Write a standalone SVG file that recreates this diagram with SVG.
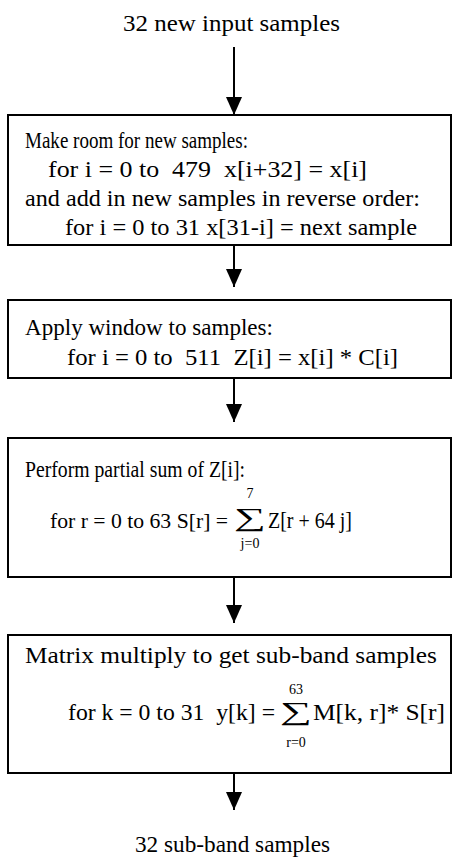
<svg xmlns="http://www.w3.org/2000/svg" width="455" height="861" viewBox="0 0 455 861">
<style>
  .t { font-family: "Liberation Serif", "Times New Roman", serif; font-size: 23px; fill: #000; white-space: pre; }
  .s { font-family: "Liberation Serif", "Times New Roman", serif; font-size: 14px; fill: #000; text-anchor: middle; }
  .sig { font-family: "Liberation Serif", "DejaVu Serif", serif; font-size: 26px; fill: #000; }
  .box { fill: #fff; stroke: #000; stroke-width: 2; }
  .conn { stroke: #000; stroke-width: 2; fill: none; marker-end: url(#ah); }
</style>
<defs>
  <marker id="ah" markerUnits="userSpaceOnUse" viewBox="0 0 18 16" markerWidth="18" markerHeight="16" refX="18" refY="8" orient="auto">
    <path d="M0,0 L18,8 L0,16 z" fill="#000"/>
  </marker>
</defs>
<rect width="455" height="861" fill="#fff"/>
<g id="connectors">
  <line class="conn" x1="234" y1="47" x2="234" y2="115"/>
  <line class="conn" x1="234" y1="245" x2="234" y2="287"/>
  <line class="conn" x1="234" y1="378" x2="234" y2="422"/>
  <line class="conn" x1="234" y1="577" x2="234" y2="623"/>
  <line class="conn" x1="234" y1="773" x2="234" y2="810"/>
</g>
<g id="input">
  <text class="t" x="123" y="31" textLength="217" lengthAdjust="spacingAndGlyphs">32 new input samples</text>
</g>
<g id="box1">
  <rect class="box" x="8" y="115" width="443" height="130"/>
  <text class="t" x="25" y="148" textLength="223" lengthAdjust="spacingAndGlyphs">Make room for new samples:</text>
  <text class="t" x="48" y="177" textLength="319" lengthAdjust="spacingAndGlyphs">for i = 0 to  479  x[i+32] = x[i]</text>
  <text class="t" x="25" y="206" textLength="395" lengthAdjust="spacingAndGlyphs">and add in new samples in reverse order:</text>
  <text class="t" x="65" y="235" textLength="352" lengthAdjust="spacingAndGlyphs">for i = 0 to 31 x[31-i] = next sample</text>
</g>
<g id="box2">
  <rect class="box" x="8" y="300" width="443" height="78"/>
  <text class="t" x="25" y="335" textLength="248" lengthAdjust="spacingAndGlyphs">Apply window to samples:</text>
  <text class="t" x="67" y="365" textLength="331" lengthAdjust="spacingAndGlyphs">for i = 0 to  511  Z[i] = x[i] * C[i]</text>
</g>
<g id="box3">
  <rect class="box" x="8" y="438" width="443" height="139"/>
  <text class="t" x="25" y="477" textLength="220" lengthAdjust="spacingAndGlyphs">Perform partial sum of Z[i]:</text>
  <text class="t" x="50" y="528" style="font-size:21.5px" textLength="178" lengthAdjust="spacingAndGlyphs">for r = 0 to 63 S[r] =</text>
  <text class="sig" x="234" y="526" textLength="32" lengthAdjust="spacingAndGlyphs">∑</text>
  <text class="s" x="250" y="498">7</text>
  <text class="s" x="250" y="548">j=0</text>
  <text class="t" x="268" y="528" textLength="84" lengthAdjust="spacingAndGlyphs">Z[r + 64 j]</text>
</g>
<g id="box4">
  <rect class="box" x="8" y="635" width="443" height="138"/>
  <text class="t" x="25" y="663" textLength="412" lengthAdjust="spacingAndGlyphs">Matrix multiply to get sub-band samples</text>
  <text class="t" x="68" y="720" textLength="207" lengthAdjust="spacingAndGlyphs">for k = 0 to 31  y[k] =</text>
  <text class="sig" x="280" y="720" textLength="32" lengthAdjust="spacingAndGlyphs">∑</text>
  <text class="s" x="296" y="694">63</text>
  <text class="s" x="296" y="747">r=0</text>
  <text class="t" x="313" y="720" textLength="132" lengthAdjust="spacingAndGlyphs">M[k, r]* S[r]</text>
</g>
<g id="output">
  <text class="t" x="135" y="852" textLength="195" lengthAdjust="spacingAndGlyphs">32 sub-band samples</text>
</g>
</svg>
